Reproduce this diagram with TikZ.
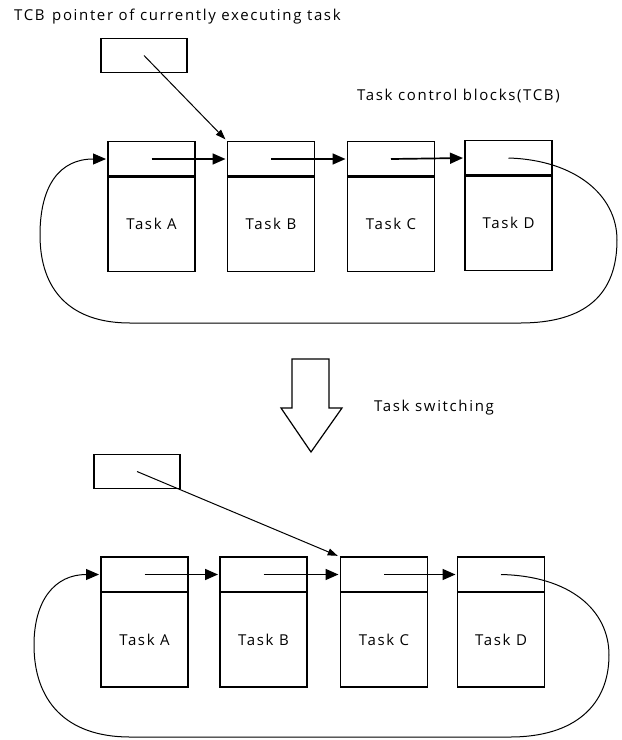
\documentclass[tikz,border=0pt]{standalone}
\usepackage{fontspec}
\setmainfont{Open Sans}[LetterSpace=11]
\usetikzlibrary{arrows.meta}
\begin{document}
\begin{tikzpicture}[x=1pt,y=-1pt,
  cell/.style={draw, line width=1.2pt, minimum width=87pt, minimum height=35pt, inner sep=0pt, outer sep=0pt},
  body/.style={draw, line width=1.2pt, minimum width=87pt, minimum height=95pt, inner sep=0pt, outer sep=0pt, anchor=north, font=\fontsize{15}{17}\selectfont},
  ptrbox/.style={draw, line width=1.2pt, minimum width=86pt, minimum height=34pt, inner sep=0pt, outer sep=0pt},
  divider/.style={line width=2.6pt},
  chain/.style={line width=1.7pt, -{Triangle[length=13pt,width=11pt]}, shorten >=2pt},
  ptrarrow/.style={line width=1pt, -{Triangle[length=10pt,width=7pt]}, shorten >=3pt},
  loopline/.style={line width=1pt, -{Triangle[length=13pt,width=11pt]}, shorten >=2pt},
  lbl/.style={font=\fontsize{15}{17}\selectfont, inner sep=0pt, anchor=west},
]
\useasboundingbox (0,0) rectangle (622,740);

% ---- labels
\node[lbl] (title) at (14,17) {TCB\hspace{0.5em}pointer of currently executing task};
\node[lbl] (tcb) at (357,96) {Task control blocks(TCB)};
\node[lbl] (sw) at (374,408) {Task switching};

% ---- upper row
\node[ptrbox] (P1) at (144,55.5) {};
\node[cell] (At) at (151.5,159) {};
\node[body] (Ab) at (At.south) {Task A};
\node[cell] (Bt) at (271,159) {};
\node[body] (Bb) at (Bt.south) {Task B};
\node[cell] (Ct) at (391,159) {};
\node[body] (Cb) at (Ct.south) {Task C};
\node[cell] (Dt) at (508.5,158) {};
\node[body] (Db) at (Dt.south) {Task D};
\foreach \n in {Ab,Bb,Cb,Db} \draw[divider] (\n.north west) -- (\n.north east);

\draw[ptrarrow] (P1.center) -- (Bt.north west);
\draw[chain] (At.center) -- (Bt.west);
\draw[chain] (Bt.center) -- (Ct.west);
\draw[chain] (Ct.center) -- (Dt.west);
\draw[loopline] (Dt.center) .. controls (575,160) and (617,195) .. (617,240)
  .. controls (617,295) and (585,323) .. (520,323) -- (130,323)
  .. controls (70,323) and (40,290) .. (40,235)
  .. controls (40,185) and (60,159) .. (At.west);

% ---- hollow arrow
\draw[line width=1.2pt] (292,359) -- (329,359) -- (329,408) -- (342,408) -- (311,452) -- (281,408) -- (292,408) -- cycle;

% ---- lower row
\node[ptrbox] (P2) at (137,471.5) {};
\node[cell] (At2) at (144.5,574.5) {};
\node[body] (Ab2) at (At2.south) {Task A};
\node[cell] (Bt2) at (263.5,574.5) {};
\node[body] (Bb2) at (Bt2.south) {Task B};
\node[cell] (Ct2) at (384,574.5) {};
\node[body] (Cb2) at (Ct2.south) {Task C};
\node[cell] (Dt2) at (501,574.5) {};
\node[body] (Db2) at (Dt2.south) {Task D};
\foreach \n in {Ab2,Bb2,Cb2,Db2} \draw[divider] (\n.north west) -- (\n.north east);

\draw[ptrarrow] (P2.center) -- (Ct2.north west);
\draw[chain] (At2.center) -- (Bt2.west);
\draw[chain] (Bt2.center) -- (Ct2.west);
\draw[chain] (Ct2.center) -- (Dt2.west);
\draw[loopline] (Dt2.center) .. controls (570,576) and (609,610) .. (609,655)
  .. controls (609,705) and (575,737) .. (510,737) -- (130,737)
  .. controls (65,737) and (34,700) .. (34,645)
  .. controls (34,600) and (55,574.5) .. (At2.west);
\end{tikzpicture}
\end{document}
